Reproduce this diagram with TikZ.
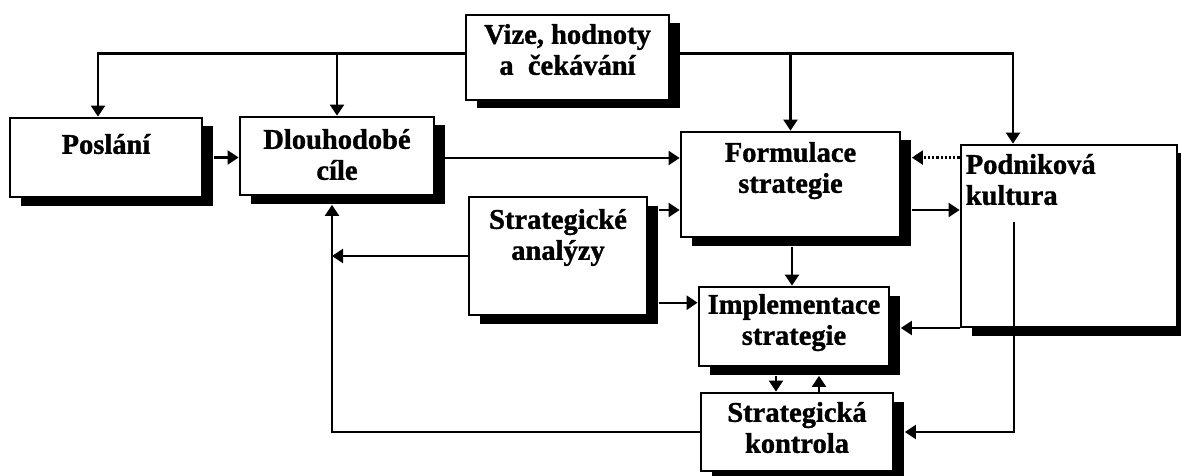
\documentclass[tikz,border=0pt]{standalone}
\usepackage{fontspec}
\setmainfont[BoldFeatures={FakeBold=1.2}]{Liberation Serif}
\usetikzlibrary{arrows.meta,shadows}
\begin{document}
\begin{tikzpicture}[x=1pt,y=-1pt,
  box/.style={draw, line width=2.8pt, fill=white, inner sep=0pt,
    drop shadow={shadow xshift=10.5pt, shadow yshift=-8.5pt, fill=black, opacity=1}},
  txt/.style={font=\fontsize{28.5}{31}\selectfont\bfseries, align=center, inner sep=0pt},
  conn/.style={line width=2.4pt},
  arr/.style={conn, -{Triangle[length=11pt,width=14pt]}},
  dotarr/.style={arr, dash pattern=on 2.2pt off 2pt},
]
\useasboundingbox (0,0) rectangle (1181,476);

% boxes
\node[box, minimum width=203pt, minimum height=85pt,
  label={[txt, anchor=north, yshift=-10pt]north:{\rule{0pt}{20pt}Vize, hodnoty\\a\ \ čekávání}}]
  (vize) at (567.5,57.5) {};
\node[box, minimum width=192pt, minimum height=79pt,
  label={[txt, anchor=north, yshift=-17pt]north:{\rule{0pt}{20pt}Poslání}}]
  (posl) at (106,157.5) {};
\node[box, minimum width=194pt, minimum height=78pt,
  label={[txt, anchor=north, yshift=-13pt]north:{\rule{0pt}{20pt}Dlouhodobé\\cíle}}]
  (dlou) at (337,156) {};
\node[box, minimum width=219pt, minimum height=105pt,
  label={[txt, anchor=north, yshift=-11pt]north:{\rule{0pt}{20pt}Formulace\\strategie}}]
  (form) at (790.5,184.5) {};
\node[box, minimum width=216pt, minimum height=182pt,
  label={[txt, align=left, anchor=north west, xshift=6pt, yshift=-10pt]north west:{\rule{0pt}{20pt}Podniková\\kultura}}]
  (podn) at (1069,236) {};
\node[box, minimum width=178pt, minimum height=118pt,
  label={[txt, anchor=north, yshift=-13pt]north:{\rule{0pt}{20pt}Strategické\\analýzy}}]
  (strat) at (558,256) {};
\node[box, minimum width=190pt, minimum height=79pt,
  label={[txt, anchor=north, yshift=-8pt]north:{\rule{0pt}{20pt}Implementace\\strategie}}]
  (impl) at (794,326.5) {};
\node[box, minimum width=192pt, minimum height=78pt,
  label={[txt, anchor=north, yshift=-10pt]north:{\rule{0pt}{20pt}Strategická\\kontrola}}]
  (kontr) at (797,432) {};

% helper points on the boxes and their shadows
\coordinate (vl)  at ([yshift=4pt]vize.west);
\coordinate (vr)  at ([yshift=4pt]vize.east);
\coordinate (d1)  at ([yshift=-2pt]dlou.east);
\coordinate (pc1) at ([yshift=-14pt]podn.north west);
\coordinate (fsh) at ([xshift=10.5pt]form.east);
\coordinate (f2)  at ([xshift=10.5pt,yshift=-25.5pt]form.east);
\coordinate (s1)  at ([xshift=10.5pt,yshift=46pt]strat.east);
\coordinate (s2)  at ([xshift=10.5pt,yshift=-46.7pt]strat.east);
\coordinate (dsb) at ([xshift=-5pt,yshift=-8.5pt]dlou.south);
\coordinate (fsb) at ([xshift=1.5pt,yshift=-8.5pt]form.south);
\coordinate (isr) at ([xshift=10.5pt,yshift=-1.5pt]impl.east);
\coordinate (pin) at ([xshift=-55pt,yshift=-78pt]podn.north);
\coordinate (ksr) at ([xshift=10.5pt]kontr.east);
\coordinate (id)  at ([xshift=-18pt,yshift=-8.5pt]impl.south);
\coordinate (iu)  at ([xshift=25pt,yshift=-8.5pt]impl.south);

% vision feeds the four boxes below it
\draw[arr] (vl) -| ([xshift=-8pt]posl.north);
\draw[arr] (vl -| dlou.north) -- (dlou.north);
\draw[arr] (vr) -| ([xshift=-56pt]podn.north);
\draw[arr] (vr -| form.north) -- (form.north);

% main flow
\draw[arr] ([xshift=10.5pt]posl.east) -- (posl.east -| dlou.west);
\draw[arr] (d1) -- (d1 -| form.west);
\draw[dotarr] (pc1) -- (pc1 -| fsh);
\draw[arr] (f2) -- (f2 -| podn.west);
\draw[arr] (s1) -- (s1 -| form.west);
\draw[arr] (s2) -- (s2 -| impl.west);
\draw[arr] (strat.west) -- (strat.west -| dsb);
\draw[arr] (fsb) -- (fsb |- impl.north);
\draw[arr] (isr -| podn.west) -- (isr);
\draw[arr] (pin) |- (ksr);
\draw[arr] (id) -- (id |- kontr.north);
\draw[arr] (iu |- kontr.north) -- (iu);
\draw[arr] (kontr.west) -| (dsb);
\end{tikzpicture}
\end{document}
